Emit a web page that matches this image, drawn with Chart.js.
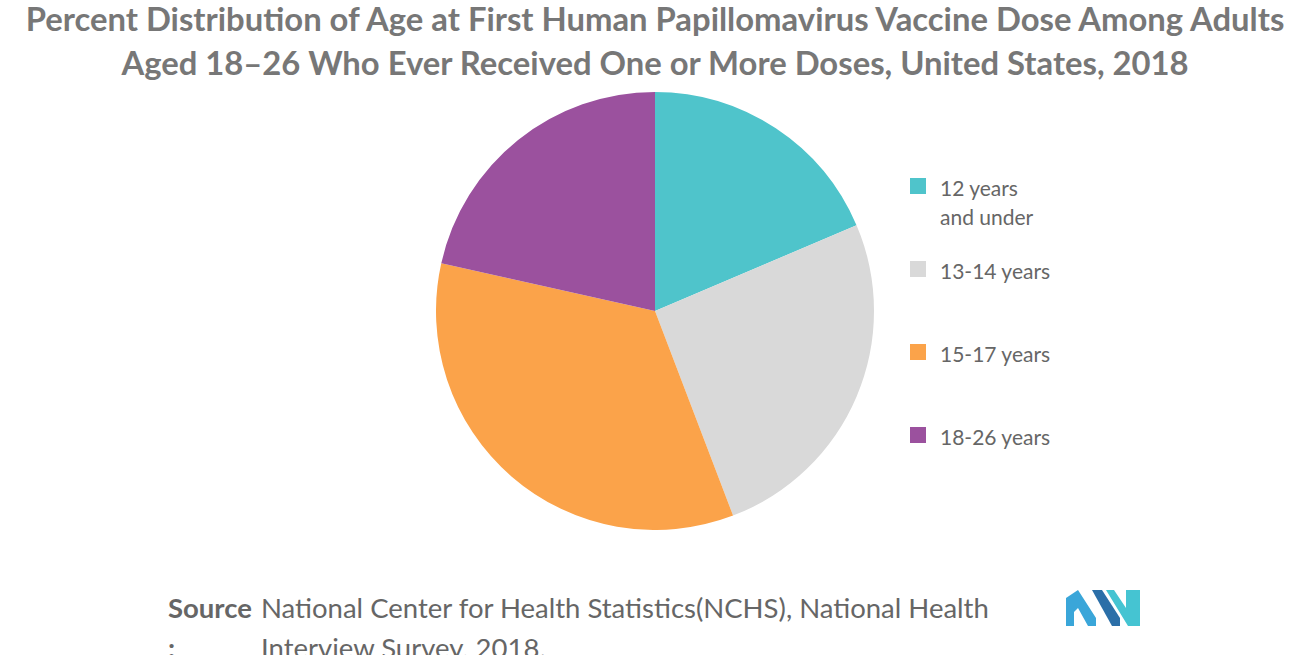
<!DOCTYPE html>
<html>
<head>
<meta charset="utf-8">
<script src="https://cdn.jsdelivr.net/npm/chart.js@4"></script>
<style>
body { margin:0; width:1310px; height:655px; background:#fff; font-family:Lato, sans-serif; position:relative; overflow:hidden; }
#title { position:absolute; top:-3px; left:-40px; width:1390px; text-align:center; color:#777; font-size:32.8px; font-weight:bold; line-height:44px; }
#pieWrap { position:absolute; left:436px; top:92px; width:438px; height:438px; }
#legend { position:absolute; left:910px; top:173px; color:#666; font-size:21px; }
.item { position:absolute; left:0; width:200px; }
.sw { position:absolute; left:0; top:5px; width:16px; height:16px; }
.lbl { position:absolute; left:30px; top:0; line-height:29px; }
#source { position:absolute; left:168px; top:588px; color:#666; font-size:27.5px; line-height:40px; }
#source b { position:absolute; left:0; top:0; font-weight:bold; color:#666; }
#source span { position:absolute; left:93px; top:0; width:800px; }
</style>
</head>
<body>
<div id="title">Percent Distribution of Age at First Human Papillomavirus Vaccine Dose Among Adults<br>Aged 18–26 Who Ever Received One or More Doses, United States, 2018</div>
<div id="pieWrap"><canvas id="pie" width="438" height="438"></canvas></div>
<div id="legend"></div>
<div id="source"><b>Source<br>:</b><span>National Center for Health Statistics(NCHS), National Health Interview Survey, 2018.</span></div>
<svg style="position:absolute;left:1066px;top:590px" width="76" height="36">
  <polygon points="0,36 0,8 12,0 30,28 30,36 22,36 12,18 8,22 8,36" fill="#3aa6d9"/>
  <polygon points="26,0 36,0 54,28 54,36 46,36" fill="#2b6fa8"/>
  <polygon points="40,0 48,0 60,18 60,0 74,0 74,36 62,36" fill="#45c4d2"/>
</svg>
<script>
const categories = ["12 years\nand under", "13-14 years", "15-17 years", "18-26 years"];
const shares = [18.6, 25.6, 34.3, 21.5];
const colors = ["#4fc4cb", "#d9d9d9", "#fba34a", "#9b519e"];

new Chart(document.getElementById("pie").getContext("2d"), {
	type: "pie",
	data: {
		labels: categories,
		datasets: [{ data: shares, backgroundColor: colors, borderWidth: 0 }],
	},
	options: {
		responsive: false,
		animation: false,
		layout: { padding: 0 },
		plugins: { legend: { display: false }, tooltip: { enabled: false } },
	},
});

// legend
const legend = document.getElementById("legend");
categories.forEach(function (c, i) {
	const el = document.createElement("div");
	el.className = "item";
	el.style.top = (i * 83) + "px";
	el.innerHTML = '<div class="sw" style="background:' + colors[i] + '"></div><div class="lbl">' + c.replace("\n", "<br>") + "</div>";
	legend.appendChild(el);
});
</script>
</body>
</html>
